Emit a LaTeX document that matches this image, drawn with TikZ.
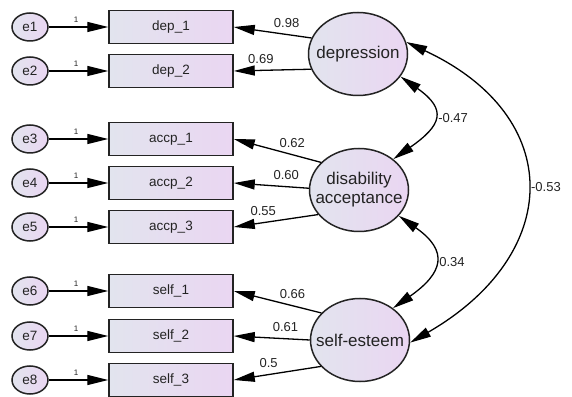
\documentclass[tikz,border=0pt]{standalone}
\usepackage{fontspec}
\setmainfont{Liberation Sans}
\usetikzlibrary{shapes.geometric,arrows.meta}

\definecolor{shadeleft}{RGB}{226,228,238}
\definecolor{shaderight}{RGB}{234,214,242}
\definecolor{ink}{RGB}{35,35,35}

\begin{document}
\begin{tikzpicture}[x=1pt,y=1pt,
  >={Triangle[length=21pt,width=10pt]},
  every node/.style={text=ink},
  link/.style={line width=1.3pt},
  obs/.style={rectangle, draw=ink, line width=1.5pt, minimum width=124pt,
    minimum height=33pt, left color=shadeleft, right color=shaderight,
    font=\fontsize{13.5}{15}\selectfont},
  err/.style={ellipse, draw=ink, line width=1.5pt, minimum width=36pt,
    minimum height=28pt, inner sep=0pt, left color=shadeleft,
    right color=shaderight, font=\fontsize{13.5}{15}\selectfont},
  latent/.style={ellipse, draw=ink, line width=1.5pt, minimum width=99pt,
    minimum height=83pt, inner sep=0pt, left color=shadeleft,
    right color=shaderight},
  latentlabel/.style={align=center, font=\fontsize{17}{19}\selectfont},
  coef/.style={font=\fontsize{13}{15}\selectfont, inner sep=2pt},
  one/.style={font=\fontsize{8}{9}\selectfont, inner sep=1pt, above=3pt}]

  \useasboundingbox (0,0) rectangle (572,396);

  % observed variables and error terms
  \foreach \i/\lbl/\y in {1/dep\_1/369, 2/dep\_2/325, 3/accp\_1/257,
      4/accp\_2/213, 5/accp\_3/169, 6/self\_1/105, 7/self\_2/60, 8/self\_3/16}
  {
    \node[obs] (obs\i) at (171,\y) {\lbl};
    \node[err] (e\i) at (30,\y) {e\i};
    \draw[->, link] (e\i) -- (obs\i) node[one, pos=0.46] {1};
  }

  % latent variables
  \node[latent, label={[name=deplbl, latentlabel]center:depression}]
    (dep) at (358,342) {};
  \node[latent, label={[name=dislbl, latentlabel]center:{disability\\acceptance}}]
    (dis) at (359,206) {};
  \node[latent, label={[name=selflbl, latentlabel]center:self-esteem}]
    (self) at (360,56) {};

  % loadings
  \foreach \lat/\ang/\i/\val/\p in {dep/161/1/0.98/0.32, dep/198/2/0.69/0.65,
      dis/144/3/0.62/0.33, dis/178/4/0.60/0.30, dis/211/5/0.55/0.65,
      self/145/6/0.66/0.33, self/180/7/0.61/0.32, self/214/8/0.5/0.6}
  \draw[->, link] (\lat.\ang) -- (obs\i.east)
    node[coef, pos=\p, above=4pt] {\val};

  % covariances
  \draw[<->, link] (dep.-28) to[out=-35, in=35, looseness=1.8]
    node[coef, right=3pt] {-0.47} (dis.42);
  \draw[<->, link] (dis.-33) to[out=-35, in=35, looseness=1.7]
    node[coef, right=3pt] {0.34} (self.44);
  \draw[<->, link] (dep.14) to[out=-25, in=30, looseness=1.5]
    node[coef, right=3pt] {-0.53} (self.-3);

\end{tikzpicture}
\end{document}
